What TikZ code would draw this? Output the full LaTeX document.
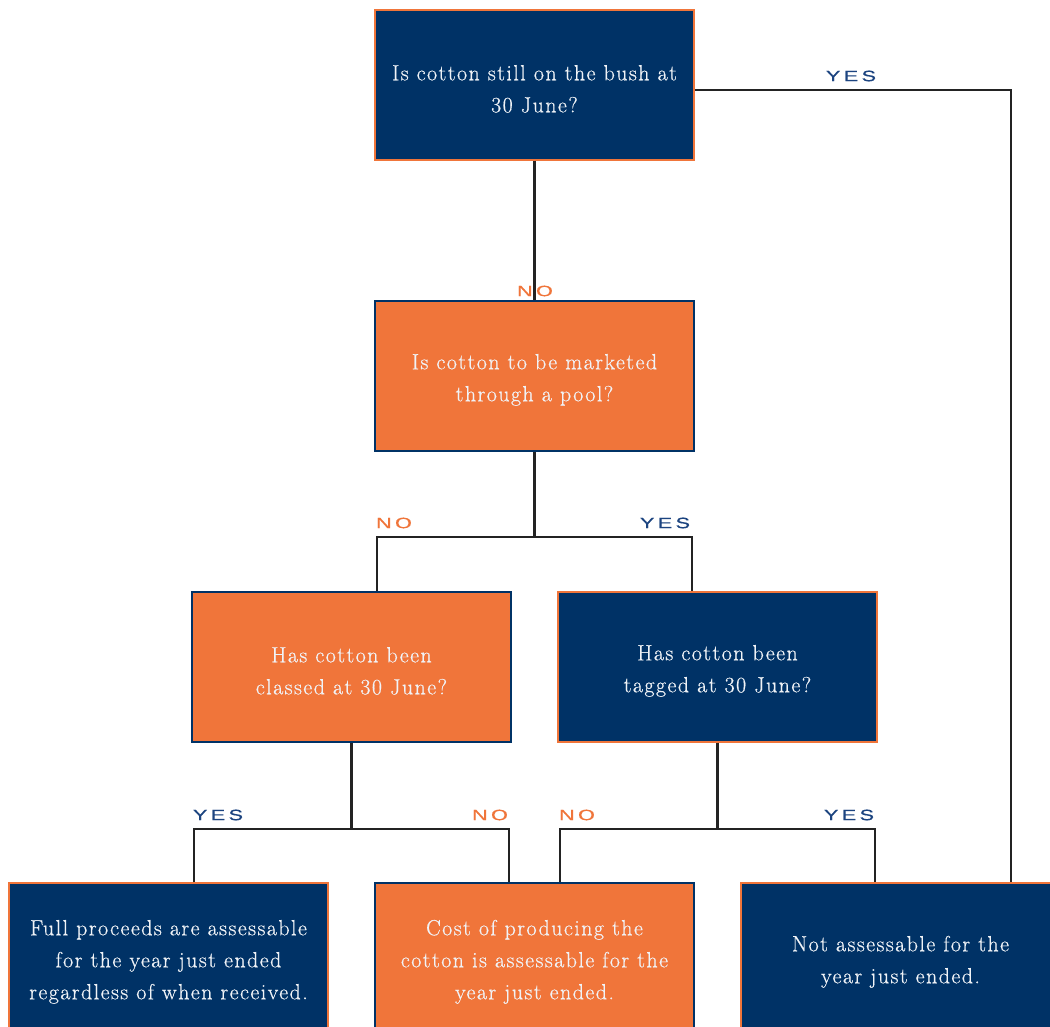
\documentclass[tikz,border=0pt]{standalone}
\usepackage{fontspec}
\setmainfont{Latin Modern Roman}[LetterSpace=6.5,FakeBold=0.5]
\newfontfamily\lblfont[LetterSpace=22,FakeStretch=1.45,FakeBold=0.6]{Liberation Sans}
\usetikzlibrary{positioning}
\newcommand\topstrut{\rule{0pt}{23pt}}
\definecolor{navy}{RGB}{0,50,102}
\definecolor{orng}{RGB}{240,117,58}
\definecolor{lblblue}{RGB}{28,68,128}
\definecolor{boxtext}{RGB}{240,243,247}
\definecolor{wire}{RGB}{35,35,35}
\tikzset{
  box/.style={rectangle, minimum width=319pt, minimum height=150pt, inner sep=0pt, line width=1.3pt,
    text=boxtext, align=center, font=\fontsize{22}{32}\selectfont},
  bluebox/.style={box, fill=navy, draw=orng},
  orangebox/.style={box, fill=orng, draw=navy},
  conn/.style={draw=wire, line width=2.7pt},
  yeslbl/.style={text=lblblue, font=\lblfont\fontsize{15}{15}\selectfont, inner sep=0pt},
  nolbl/.style={text=orng, font=\lblfont\fontsize{15}{15}\selectfont, inner sep=0pt}
}
\begin{document}
\begin{tikzpicture}[x=1pt,y=-1pt]
\clip (0,0) rectangle (1050,1027);
\fill[white] (0,0) rectangle (1050,1027);
% nodes
\node[bluebox]   (q1) at (534.5,85)  {\topstrut Is cotton still on the bush at\\30 June?};
\node[orangebox] (q2) at (534.5,376) {\topstrut Is cotton to be marketed\\through a pool?};
\node[orangebox] (q3) at (351.5,667) {\topstrut Has cotton been\\classed at 30 June?};
\node[bluebox]   (q4) at (717.5,667) {\topstrut Has cotton been\\tagged at 30 June?};
\node[bluebox]   (r1) at (168.5,958) {\topstrut Full proceeds are assessable\\for the year just ended\\regardless of when received.};
\node[orangebox] (r2) at (534.5,958) {\topstrut Cost of producing the\\cotton is assessable for the\\year just ended.};
\node[bluebox]   (r3) at (900.5,958) {\topstrut Not assessable for the\\year just ended.};
% junctions
\coordinate (j2) at (534.5,537);
\coordinate (j3) at (351.5,829);
\coordinate (j4) at (717.5,829);
% labels
\node[nolbl]  (l1) at (535,291) {NO};
\node[yeslbl] (l2) at (851,76)  {YES};
\node[nolbl]  (l3) at (394,523) {NO};
\node[yeslbl] (l4) at (665,523) {YES};
\node[yeslbl] (l5) at (218,815) {YES};
\node[nolbl]  (l6) at (490,815) {NO};
\node[nolbl]  (l7) at (577,815) {NO};
\node[yeslbl] (l8) at (849,815) {YES};
% connectors
\draw[conn] (q1.south) -- (q2.north);
\draw[conn] ([yshift=-5]q1.east) -| ([xshift=110.5]r3.north);
\draw[conn] (q2.south) -- (j2);
\draw[conn] ([xshift=25.5]q3.north) |- (j2) -| ([xshift=-25.5]q4.north);
\draw[conn] (q3.south) -- (j3);
\draw[conn] ([xshift=25.5]r1.north) |- (j3) -| ([xshift=-25.5]r2.north);
\draw[conn] (q4.south) -- (j4);
\draw[conn] ([xshift=25.5]r2.north) |- (j4) -| ([xshift=-25.5]r3.north);
\end{tikzpicture}
\end{document}
